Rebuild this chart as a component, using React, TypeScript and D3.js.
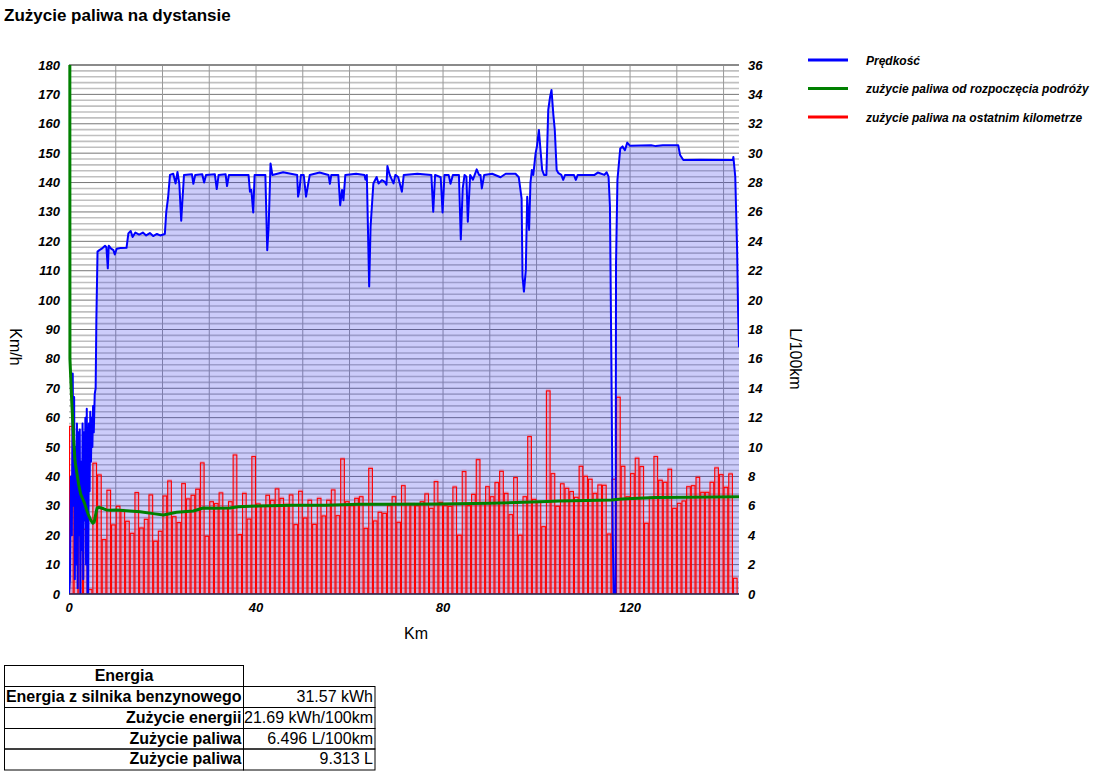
import React from 'react';
import * as d3 from 'd3';

const KM_MAX = 143.3;

const titleText = 'Zużycie paliwa na dystansie';
const leftTickValues = [0, 10, 20, 30, 40, 50, 60, 70, 80, 90, 100, 110, 120, 130, 140, 150, 160, 170, 180];
const rightTickValues = [0, 2, 4, 6, 8, 10, 12, 14, 16, 18, 20, 22, 24, 26, 28, 30, 32, 34, 36];
const bottomTickValues = [0, 40, 80, 120];

// speed [km, km/h]
const speedPoints: [number, number][] = [
  [0, 0], [0.2, 5], [0.4, 40], [0.6, 20], [0.8, 75], [0.95, 30], [1.1, 67], [1.25, 5], [1.4, 50], [1.55, 10],
  [1.7, 58], [1.85, 2], [2.0, 55], [2.15, 20], [2.3, 56], [2.45, 0], [2.6, 45], [2.75, 15], [2.9, 58], [3.05, 5],
  [3.2, 55], [3.35, 25], [3.5, 60], [3.65, 10], [3.8, 63], [3.95, 0], [4.1, 0], [4.25, 58], [4.4, 35], [4.55, 62],
  [4.7, 45], [4.85, 60], [5.0, 50], [5.15, 64], [5.3, 55], [5.5, 68], [5.7, 70], [5.85, 93], [6.1, 116.5],
  [6.5, 117], [7.0, 117.5], [7.7, 118.5], [8.0, 118], [8.3, 110.8], [8.5, 118.5], [9.0, 117.5], [9.5, 117],
  [9.8, 115.5], [10.2, 117.5], [11, 117.7], [12.3, 117.8], [12.7, 122.7], [13.2, 123.5], [13.6, 121.5],
  [14.2, 123], [15, 122.3], [15.8, 123], [16.5, 122], [17.3, 122.8], [18, 121.8], [18.8, 122.5], [19.5, 122],
  [20.5, 122.5], [20.8, 130], [21.2, 135], [21.6, 142.6], [22.3, 143], [22.8, 139.7], [23.2, 143.6],
  [23.6, 139.5], [24.0, 127], [24.3, 135], [24.6, 142.6], [26.3, 142.8], [26.6, 139.6], [27, 142.6],
  [28.5, 142.8], [28.9, 140], [29.3, 142.6], [31.2, 142.8], [31.6, 137.8], [32, 142.6], [33.5, 142.8],
  [33.8, 138.8], [34.2, 142.6], [38.4, 142.6], [38.7, 136.9], [39.0, 137.5], [39.4, 129.8], [39.7, 142.6],
  [42.0, 142.6], [42.4, 117], [42.7, 125], [43.1, 146.5], [43.5, 142.6], [45.8, 143.5], [48.8, 142.6],
  [49.0, 135.2], [49.3, 137.5], [49.6, 142.6], [50.2, 142.6], [50.7, 135.2], [51.1, 139], [51.5, 142.6],
  [53.6, 143.4], [55.5, 142.6], [55.8, 139.6], [56.1, 142.6], [57.6, 142.6], [58.0, 132.3], [58.4, 137.5],
  [58.7, 134], [59.1, 142.6], [61.4, 143], [63.2, 142.6], [63.4, 141], [63.7, 142.6], [64.2, 104.6],
  [64.5, 125], [65.1, 139.7], [65.8, 141.9], [66.2, 139.7], [66.9, 140.8], [67.5, 140.3], [67.9, 139.3],
  [68.1, 145.6], [68.6, 142.6], [69.4, 139.7], [69.8, 142.6], [70.4, 141.9], [71.2, 136.9], [71.6, 142.6],
  [74.5, 143], [77.5, 142.6], [77.9, 130.1], [78.3, 142.6], [79.5, 141.8], [79.9, 129.8], [80.3, 142.6],
  [81.2, 142.6], [81.6, 139.6], [82.1, 142.6], [83.4, 142.6], [83.8, 120.6], [84.2, 137.9], [84.6, 142.6],
  [85.0, 142], [85.3, 126.7], [85.8, 142.6], [86.4, 141], [87.2, 144.5], [87.7, 142.6], [88.0, 142.6],
  [88.3, 138], [88.8, 142.6], [90.5, 143], [92.3, 141.8], [93.4, 143], [95.5, 143], [96.2, 141.8],
  [96.8, 134.6], [97.0, 108], [97.3, 102.9], [97.7, 110.2], [98.0, 135.2], [98.4, 123.9], [98.7, 140],
  [99.0, 144.3], [99.3, 142.6], [99.8, 150], [100.1, 152.5], [100.5, 157.9], [100.9, 150], [101.2, 144.3],
  [101.6, 142.6], [102.1, 142.6], [102.5, 164.7], [102.9, 169.2], [103.2, 171.5], [103.6, 163], [103.9, 157.9],
  [104.3, 144.3], [104.7, 143.2], [105.3, 142.6], [105.7, 140.9], [106.1, 142.6], [108.0, 142.6],
  [108.4, 140.9], [108.8, 142.6], [112.4, 142.6], [113.1, 143.4], [114.5, 142.6], [115.0, 143.5],
  [115.4, 142], [115.7, 131.8], [116.0, 80], [116.3, 20], [116.5, 0], [116.9, 0], [117.0, 112.5],
  [117.3, 140.9], [117.9, 151.6], [118.4, 152.3], [118.9, 151], [119.4, 153.6], [120, 152.5], [124.5, 152.7],
  [125.5, 152.4], [127, 152.7], [130.3, 152.7], [130.7, 149.4], [131.4, 147.7], [135, 147.8], [142.0, 147.7],
  [142.1, 148.7], [142.5, 142], [142.7, 129.5], [142.9, 117], [143.1, 96.6], [143.3, 84],
];

// fuel used on the last kilometre, L/100km (bar k spans km k..k+1)
const fuelPerKm: number[] = [
  11.4, 3.1, 5.0, 4.4, 0.3, 8.9, 8.1, 3.7, 7.06, 4.7,
  5.97, 5.67, 4.95, 4.13, 6.9, 4.49, 5.08, 6.74, 3.59, 4.27,
  6.67, 7.69, 5.26, 4.86, 7.51, 6.47, 6.72, 7.13, 8.92, 3.93,
  6.28, 6.15, 6.88, 5.87, 6.28, 9.46, 4.04, 6.85, 5.1, 9.35,
  6.13, 6.01, 6.72, 6.38, 7.15, 6.51, 6.1, 6.74, 4.72, 6.99,
  5.17, 6.38, 4.74, 6.51, 5.31, 6.38, 7.08, 5.33, 9.19, 6.28,
  6.01, 6.51, 6.62, 4.47, 8.55, 4.97, 5.56, 5.49, 6.01, 6.62,
  4.88, 7.37, 6.15, 6.1, 6.01, 6.28, 6.81, 5.83, 7.65, 6.24,
  6.01, 5.97, 7.28, 4.0, 8.33, 6.01, 6.78, 9.14, 6.19, 7.3,
  6.62, 7.58, 8.35, 6.85, 5.4, 7.92, 4.0, 6.62, 10.71, 6.44,
  6.24, 4.58, 13.82, 8.19, 5.97, 7.5, 7.19, 6.97, 6.58, 8.69,
  8.01, 7.81, 6.85, 7.42, 7.4, 4.08, 7.81, 13.39, 8.69, 6.62,
  8.19, 9.24, 8.67, 4.81, 6.58, 9.35, 7.74, 7.6, 8.49, 5.83,
  6.17, 6.33, 7.3, 7.37, 7.94, 6.92, 6.92, 7.6, 8.58, 8.12,
  7.26, 8.17, 1.07,
];

// average consumption since start [km, L/100km]
const fuelAvgPoints: [number, number][] = [
  [0, 200], [0.2, 16], [0.6, 13], [1.0, 10.5], [1.3, 9], [1.7, 8.2], [2.1, 7.4], [2.5, 6.8], [2.9, 6.5],
  [3.3, 6.2], [3.7, 5.8], [4.2, 5.35], [4.7, 5.0], [5.1, 4.82], [5.4, 4.9], [5.7, 5.4], [6.0, 5.85],
  [6.5, 5.9], [6.9, 5.85], [7.4, 5.8], [8.0, 5.72], [8.8, 5.7], [10, 5.72], [12.3, 5.67], [15.2, 5.6],
  [18, 5.47], [20.2, 5.38], [23, 5.56], [26.6, 5.65], [28.7, 5.85], [31, 5.83], [34.4, 5.85], [36.2, 5.94],
  [40.5, 5.99], [47.6, 6.04], [54.8, 6.04], [61.9, 6.1], [69, 6.1], [79.4, 6.13], [90, 6.17], [97.2, 6.24],
  [100.7, 6.28], [105, 6.33], [116, 6.4], [118.2, 6.46], [125.3, 6.56], [132.5, 6.58], [143.3, 6.62],
];

const legendItems = [
  { label: 'Prędkość', color: '#0000ff' },
  { label: 'zużycie paliwa od rozpoczęcia podróży', color: '#008000' },
  { label: 'zużycie paliwa na ostatnim kilometrze', color: '#ff0000' },
];

const tableHeader = 'Energia';
const tableLabels = ['Energia z silnika benzynowego', 'Zużycie energii', 'Zużycie paliwa', 'Zużycie paliwa'];
const tableValues = ['31.57 kWh', '21.69 kWh/100km', '6.496 L/100km', '9.313 L'];

const FONT = '"Liberation Sans", Arial, Helvetica, sans-serif';

export default function App() {
  const PL = 69, PR = 739, PT = 65, PB = 594;
  const x = d3.scaleLinear().domain([0, KM_MAX]).range([PL, PR]);
  const yL = d3.scaleLinear().domain([0, 180]).range([PB, PT]);
  const yR = d3.scaleLinear().domain([0, 36]).range([PB, PT]);

  const area = d3.area<[number, number]>().x(d => x(d[0])).y0(yL(0)).y1(d => yL(d[1]));
  const speedLine = d3.line<[number, number]>().x(d => x(d[0])).y(d => yL(d[1]));
  const avgLine = d3.line<[number, number]>().x(d => x(d[0])).y(d => yR(d[1]));

  const minorY = d3.range(0, 181, 2).filter(v => v % 10 !== 0);
  const majorY = d3.range(0, 181, 10);
  const vertX = d3.range(10, KM_MAX, 10);

  const colX = [4.5, 243.5, 375];
  const rowY = [665.5, 686.5, 707.5, 728.5, 749, 770];

  return (
    <svg width={1096} height={775} style={{ position: 'absolute', left: 0, top: 0, background: '#fff' }} fontFamily={FONT}>
      <defs>
        <clipPath id="plot">
          <rect x={PL} y={PT} width={PR - PL} height={PB - PT} />
        </clipPath>
        <clipPath id="plotWide">
          <rect x={PL - 2} y={PT} width={PR - PL + 2} height={PB - PT} />
        </clipPath>
      </defs>
      <text x={4} y={21} fontSize={17} fontWeight="bold" fill="#000">{titleText}</text>

      {/* grid */}
      <g>
        {minorY.map(v => (
          <line key={'mi' + v} x1={PL} x2={PR} y1={yL(v)} y2={yL(v)} stroke="#c0c0c0" strokeWidth={1.6} />
        ))}
        {majorY.map(v => (
          <line key={'ma' + v} x1={PL} x2={PR} y1={yL(v)} y2={yL(v)} stroke="#777" strokeWidth={1} />
        ))}
        {vertX.map(v => (
          <line key={'vx' + v} x1={x(v)} x2={x(v)} y1={PT} y2={PB} stroke="#999" strokeWidth={1} />
        ))}
        <line x1={PL} x2={PR} y1={PT} y2={PT} stroke="#8a8a8a" strokeWidth={2} />
      </g>

      <g clipPath="url(#plot)">
        <path d={area(speedPoints) || ''} fill="rgba(40,40,235,0.24)" />
        {fuelPerKm.map((v, i) => {
          const x0 = x(i);
          const x1 = x(Math.min(i + 1, KM_MAX));
          return (
            <g key={'b' + i}>
              <rect x={x0} y={yR(v) - 2} width={x1 - x0} height={yR(0) - yR(v) + 2} fill="rgba(255,40,60,0.22)" />
              <rect x={x0 + 0.5} y={yR(v)} width={x1 - x0 - 1} height={yR(0) - yR(v)} fill="none" stroke="#ff0000" strokeWidth={1.1} />
            </g>
          );
        })}
        <path d={speedLine(speedPoints) || ''} fill="none" stroke="#0000ff" strokeWidth={2} strokeLinejoin="round" />
      </g>
      <g clipPath="url(#plotWide)">
        <path d={avgLine(fuelAvgPoints) || ''} fill="none" stroke="#008000" strokeWidth={3} strokeLinejoin="round" />
      </g>
      <line x1={PL} x2={PR} y1={PB} y2={PB} stroke="#2a2a55" strokeWidth={1.5} />

      {/* axis tick labels */}
      {leftTickValues.map(v => (
        <text key={'lt' + v} x={60} y={yL(v) + 4.5} textAnchor="end" fontSize={13} fontWeight="bold" fontStyle="italic" fill="#000">{v}</text>
      ))}
      {rightTickValues.map(v => (
        <text key={'rt' + v} x={748} y={yR(v) + 4.5} textAnchor="start" fontSize={13} fontWeight="bold" fontStyle="italic" fill="#000">{v}</text>
      ))}
      {bottomTickValues.map(v => (
        <text key={'bt' + v} x={x(v)} y={612} textAnchor="middle" fontSize={13} fontWeight="bold" fontStyle="italic" fill="#000">{v}</text>
      ))}

      <text transform="translate(10,347) rotate(90)" textAnchor="middle" fontSize={16} fill="#000">Km/h</text>
      <text transform="translate(790,359) rotate(90)" textAnchor="middle" fontSize={16} fill="#000">L/100km</text>
      <text x={416} y={639} textAnchor="middle" fontSize={16} fill="#000">Km</text>

      {/* legend */}
      {legendItems.map((it, i) => (
        <g key={'lg' + i} transform={`translate(0,${60 + i * 28.5})`}>
          <line x1={808} x2={848} y1={0} y2={0} stroke={it.color} strokeWidth={3} />
          <text x={866} y={4.5} fontSize={12} fontWeight="bold" fontStyle="italic" fill="#000">{it.label}</text>
        </g>
      ))}

      {/* table */}
      <g>
        <rect x={colX[0]} y={rowY[0]} width={colX[1] - colX[0]} height={rowY[1] - rowY[0]} fill="none" stroke="#000" strokeWidth={1} />
        <text x={(colX[0] + colX[1]) / 2} y={rowY[0] + 15} textAnchor="middle" fontSize={16} fontWeight="bold">{tableHeader}</text>
        {tableLabels.map((lab, i) => (
          <g key={'tr' + i}>
            <rect x={colX[0]} y={rowY[i + 1]} width={colX[1] - colX[0]} height={rowY[i + 2] - rowY[i + 1]} fill="none" stroke="#000" strokeWidth={1} />
            <rect x={colX[1]} y={rowY[i + 1]} width={colX[2] - colX[1]} height={rowY[i + 2] - rowY[i + 1]} fill="none" stroke="#000" strokeWidth={1} />
            <text x={colX[1] - 2} y={rowY[i + 1] + 15} textAnchor="end" fontSize={16} fontWeight="bold">{lab}</text>
            <text x={colX[2] - 2} y={rowY[i + 1] + 15} textAnchor="end" fontSize={16}>{tableValues[i]}</text>
          </g>
        ))}
      </g>
    </svg>
  );
}
